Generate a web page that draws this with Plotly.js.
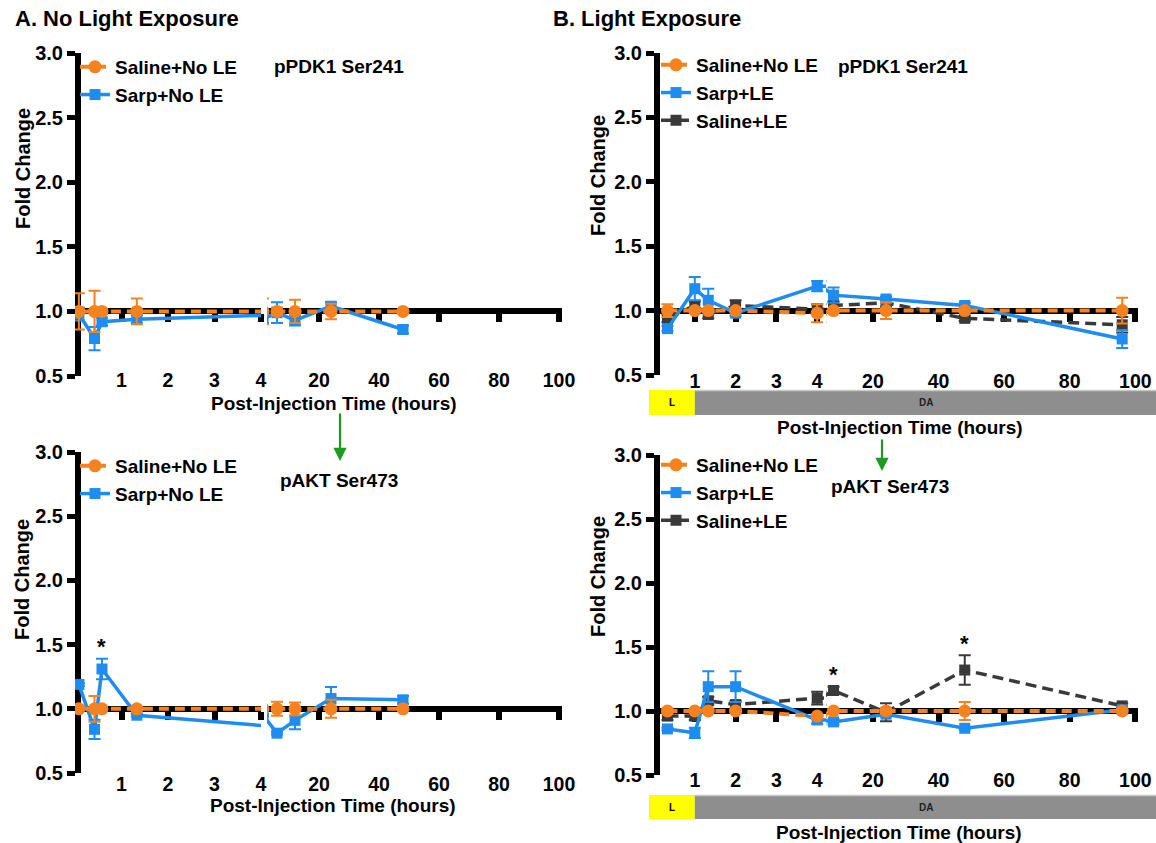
<!DOCTYPE html>
<html><head><meta charset="utf-8">
<script src="https://cdn.plot.ly/plotly-3.0.1.min.js"></script>
<style>html,body{margin:0;padding:0;background:#fff}#chart{width:1156px;height:843px}</style>
</head><body><div id="chart"></div>
<script>
// ---------- DATA ----------
const timesA = [0.083, 0.42, 0.58, 1.33, 6, 12, 24, 48];        // hours, No Light Exposure
const timesB = [0.33, 1, 1.33, 2, 4, 8, 24, 48, 96];             // hours, Light Exposure
const ticksSeg1 = [1, 2, 3, 4];
const ticksSeg2 = [20, 40, 60, 80, 100];
const yTickVals = [0.5, 1.0, 1.5, 2.0, 2.5, 3.0];

// A: pPDK1 Ser241
const pdkA_salineNoLE     = [1.00, 1.00, 1.00, 1.00, 1.00, 1.00, 1.00, 1.00];
const pdkA_salineNoLE_sem = [0.14, 0.16, 0.02, 0.10, 0.03, 0.09, 0.06, 0.01];
const pdkA_sarpNoLE       = [0.98, 0.79, 0.92, 0.94, 0.99, 0.93, 1.04, 0.86];
const pdkA_sarpNoLE_sem   = [0.05, 0.09, 0.03, 0.03, 0.08, 0.04, 0.03, 0.03];
// A: pAKT Ser473
const aktA_salineNoLE     = [1.00, 1.00, 1.00, 1.00, 1.00, 1.00, 1.00, 1.00];
const aktA_salineNoLE_sem = [0.01, 0.10, 0.01, 0.01, 0.055, 0.05, 0.07, 0.01];
const aktA_sarpNoLE       = [1.19, 0.84, 1.31, 0.95, 0.81, 0.91, 1.08, 1.07];
const aktA_sarpNoLE_sem   = [0.01, 0.075, 0.08, 0.01, 0.01, 0.07, 0.09, 0.03];
// B: pPDK1 Ser241
const pdkB_salineNoLE     = [1.00, 1.00, 1.00, 1.00, 0.98, 1.00, 1.00, 1.00, 1.00];
const pdkB_salineNoLE_sem = [0.05, 0.01, 0.01, 0.01, 0.07, 0.01, 0.065, 0.01, 0.10];
const pdkB_sarpLE         = [0.86, 1.17, 1.08, 0.98, 1.19, 1.12, 1.09, 1.04, 0.78];
const pdkB_sarpLE_sem     = [0.02, 0.09, 0.09, 0.02, 0.04, 0.06, 0.02, 0.02, 0.07];
const pdkB_salineLE       = [0.94, 1.04, 0.97, 1.04, 1.01, 1.04, 1.06, 0.94, 0.89];
const pdkB_salineLE_sem   = [0.03, 0.03, 0.03, 0.04, 0.04, 0.03, 0.03, 0.02, 0.06];
// B: pAKT Ser473
const aktB_salineNoLE     = [1.00, 1.00, 1.00, 1.00, 0.96, 1.00, 1.00, 1.00, 1.00];
const aktB_salineNoLE_sem = [0.02, 0.01, 0.01, 0.01, 0.01, 0.01, 0.02, 0.07, 0.01];
const aktB_sarpLE         = [0.86, 0.83, 1.19, 1.19, 0.93, 0.915, 0.975, 0.865, 1.01];
const aktB_sarpLE_sem     = [0.01, 0.04, 0.12, 0.12, 0.03, 0.02, 0.01, 0.01, 0.01];
const aktB_salineLE       = [0.96, 0.96, 1.08, 1.05, 1.10, 1.16, 0.99, 1.32, 1.04];
const aktB_salineLE_sem   = [0.03, 0.03, 0.03, 0.03, 0.05, 0.03, 0.07, 0.115, 0.02];

// significant points (indices into the series)
const sigIdx_aktA_sarpNoLE = [2];
const sigIdx_aktB_salineLE = [5, 7];

// ---------- STYLE / LAYOUT ----------
const W = 1156, H = 843;
const FONT = 'Arial, "Liberation Sans", Helvetica, sans-serif';
const STY = {
  salineNoLE: {color:'#F5821F', dash:'10px,6px', width:4, symbol:'circle', size:13},
  sarp:       {color:'#1E8CF0', dash:'solid',   width:3.5, symbol:'square', size:11},
  salineLE:   {color:'#3a3a3a', dash:'11px,6px', width:3.5, symbol:'square', size:11}
};

const panels = [
  {xa:[1,2], ya:1, s1:[75,261], s2:[267,562], r1:[0,4], r2:[2.67,101], yPix:[376,53], times:timesA,
   legend:'legend', legPos:[75,48], standoff:41,
   series:[
     {name:'Sarp+No LE', kind:'sarp', y:pdkA_sarpNoLE, e:pdkA_sarpNoLE_sem, rank:2},
     {name:'Saline+No LE', kind:'salineNoLE', y:pdkA_salineNoLE, e:pdkA_salineNoLE_sem, rank:1}
   ]},
  {xa:[3,4], ya:2, s1:[75,261], s2:[267,562], r1:[0,4], r2:[2.67,101], yPix:[773,452], times:timesA,
   legend:'legend2', legPos:[75,447], standoff:48,
   series:[
     {name:'Sarp+No LE', kind:'sarp', y:aktA_sarpNoLE, e:aktA_sarpNoLE_sem, rank:2, sig:sigIdx_aktA_sarpNoLE},
     {name:'Saline+No LE', kind:'salineNoLE', y:aktA_salineNoLE, e:aktA_salineNoLE_sem, rank:1}
   ]},
  {xa:[5,6], ya:3, s1:[654,826], s2:[826,1138], r1:[0,4.216], r2:[5.7,100.82], yPix:[375,53], times:timesB,
   legend:'legend3', legPos:[656,46], standoff:43, bar:[390,415],
   series:[
     {name:'Saline+LE', kind:'salineLE', y:pdkB_salineLE, e:pdkB_salineLE_sem, rank:3},
     {name:'Sarp+LE', kind:'sarp', y:pdkB_sarpLE, e:pdkB_sarpLE_sem, rank:2},
     {name:'Saline+No LE', kind:'salineNoLE', y:pdkB_salineNoLE, e:pdkB_salineNoLE_sem, rank:1}
   ]},
  {xa:[7,8], ya:4, s1:[654,826], s2:[826,1138], r1:[0,4.216], r2:[5.7,100.82], yPix:[775,455], times:timesB,
   legend:'legend4', legPos:[656,446], standoff:42, bar:[795,819],
   series:[
     {name:'Saline+LE', kind:'salineLE', y:aktB_salineLE, e:aktB_salineLE_sem, rank:3, sig:sigIdx_aktB_salineLE},
     {name:'Sarp+LE', kind:'sarp', y:aktB_sarpLE, e:aktB_sarpLE_sem, rank:2},
     {name:'Saline+No LE', kind:'salineNoLE', y:aktB_salineNoLE, e:aktB_salineNoLE_sem, rank:1}
   ]}
];

const id = (l,n) => l + (n===1 ? '' : n);
const axKey = (l,n) => l + 'axis' + (n===1 ? '' : n);

const traces = [];
const layout = {
  width:W, height:H, margin:{l:0,r:0,t:0,b:0}, paper_bgcolor:'#fff', plot_bgcolor:'rgba(0,0,0,0)',
  font:{family:FONT, color:'#000', size:18, weight:'bold'}, annotations:[], shapes:[]
};

panels.forEach(p => {
  const yDom = [1 - p.yPix[0]/H, 1 - p.yPix[1]/H];
  const yLinePos = yDom[0] + (1 - 0.5)/(3 - 0.5) * (yDom[1] - yDom[0]);
  // y axis
  layout[axKey('y', p.ya)] = {
    domain:yDom, range:[0.5,3], anchor:'free', position:(p.s1[0] + 3)/W, tickvals:yTickVals,
    ticktext:yTickVals.map(v => v.toFixed(1)), showline:true, linewidth:6, linecolor:'#000',
    ticks:'outside', ticklen:8, tickwidth:5, tickcolor:'#000', showgrid:false, zeroline:false,
    tickfont:{family:FONT, size:20, weight:'bold', color:'#000'}, layer:'below traces', fixedrange:true
  };
  // two x segments, axis line drawn at y = 1.0
  [[p.xa[0], p.s1, p.r1, ticksSeg1], [p.xa[1], p.s2, p.r2, ticksSeg2]].forEach(([n, s, r, tv]) => {
    layout[axKey('x', n)] = {
      domain:[s[0]/W, s[1]/W], range:r, anchor:'free', position:yLinePos,
      tickvals:tv, ticktext:tv.map(String), showline:true, linewidth:6, linecolor:'#000',
      ticks:'outside', ticklen:8, tickwidth:6, tickcolor:'#000', showgrid:false, zeroline:false,
      ticklabelstandoff:p.standoff, tickfont:{family:FONT, size:19.5, weight:'bold', color:'#000'},
      layer:'below traces', fixedrange:true
    };
  });
  // series, drawn once per segment (clipped to each segment)
  p.series.forEach(s => {
    const st = STY[s.kind];
    [p.xa[0], p.xa[1]].forEach((n, k) => {
      traces.push({
        type:'scatter', mode:'lines+markers', x:p.times, y:s.y,
        xaxis:id('x',n), yaxis:id('y',p.ya), name:s.name, legend:p.legend,
        legendrank:s.rank, showlegend:k===0, cliponaxis:true, hoverinfo:'skip',
        line:{color:st.color, width:st.width, dash:st.dash},
        marker:{symbol:st.symbol, size:st.size, color:st.color},
        error_y:{type:'data', array:s.e, visible:true, color:st.color, thickness:2, width:6}
      });
    });
    (s.sig || []).forEach(i => {
      const t = p.times[i];
      const n = t <= p.r1[1] ? p.xa[0] : p.xa[1];
      layout.annotations.push({xref:id('x',n), yref:id('y',p.ya), x:t, y:s.y[i] + s.e[i],
        text:'*', showarrow:false, xanchor:'center', yanchor:'middle', yshift:12,
        font:{family:FONT, size:22, color:'#000'}});
    });
  });
  layout[p.legend] = {
    x:p.legPos[0]/W, y:1 - p.legPos[1]/H, xanchor:'left', yanchor:'top', bgcolor:'rgba(0,0,0,0)',
    font:{family:FONT, size:19, weight:'bold', color:'#000'}, itemwidth:30, tracegroupgap:0
  };
  // light-phase bar (panel B)
  if (p.bar) {
    const x1h = (p.s1[0] + (1 - p.r1[0])/(p.r1[1]-p.r1[0])*(p.s1[1]-p.s1[0])) / W;
    layout.shapes.push({type:'rect', xref:'paper', yref:'paper', x0:649/W, x1:x1h,
      y0:1 - p.bar[1]/H, y1:1 - p.bar[0]/H, fillcolor:'#FFFF00', line:{width:0}, layer:'below'});
    layout.shapes.push({type:'rect', xref:'paper', yref:'paper', x0:x1h, x1:1,
      y0:1 - p.bar[1]/H, y1:1 - p.bar[0]/H, fillcolor:'#8E8E8E', line:{width:0}, layer:'below'});
    layout.shapes.push({type:'line', xref:'paper', yref:'paper', x0:x1h, x1:1,
      y0:1 - (p.bar[0] + 0.5)/H, y1:1 - (p.bar[0] + 0.5)/H, line:{color:'#C8C8C8', width:1.5}});
    const yc = 1 - (p.bar[0] + p.bar[1]) / 2 / H;
    layout.annotations.push({xref:'paper', yref:'paper', x:(649/W + x1h)/2, y:yc, text:'L', showarrow:false,
      xanchor:'center', yanchor:'middle', font:{family:FONT, size:10, weight:'bold', color:'#000'}});
    layout.annotations.push({xref:'paper', yref:'paper', x:926/W, y:yc, text:'DA', showarrow:false,
      xanchor:'center', yanchor:'middle', font:{family:FONT, size:10, weight:'bold', color:'#222'}});
  }
});

// texts
const txt = (x, y, text, size, opts={}) => Object.assign({xref:'paper', yref:'paper', x:x/W, y:1 - y/H,
  text, showarrow:false, xanchor:'center', yanchor:'middle',
  font:{family:FONT, size, weight:'bold', color:'#000'}}, opts);
layout.annotations.push(
  txt(13, 18, 'A. No Light Exposure', 22, {xanchor:'left'}),
  txt(551, 18, 'B. Light Exposure', 22, {xanchor:'left'}),
  txt(272, 67, 'pPDK1 Ser241', 19, {xanchor:'left'}),
  txt(836, 67, 'pPDK1 Ser241', 19, {xanchor:'left'}),
  txt(278, 480, 'pAKT Ser473', 19, {xanchor:'left'}),
  txt(829, 486, 'pAKT Ser473', 19, {xanchor:'left'}),
  txt(23, 169, 'Fold Change', 20, {textangle:-90}),
  txt(598, 176, 'Fold Change', 20, {textangle:-90}),
  txt(22, 580, 'Fold Change', 20, {textangle:-90}),
  txt(598, 577, 'Fold Change', 20, {textangle:-90}),
  txt(334, 403, 'Post-Injection Time (hours)', 19),
  txt(900, 427, 'Post-Injection Time (hours)', 19),
  txt(333, 805, 'Post-Injection Time (hours)', 19),
  txt(899, 832, 'Post-Injection Time (hours)', 19)
);
// green arrows
[[340, 412, 461], [882, 438, 471]].forEach(([x, y0, y1]) => {
  layout.annotations.push({xref:'paper', yref:'paper', x:x/W, y:1 - y1/H, ax:0, ay:-(y1 - y0),
    axref:'pixel', ayref:'pixel', text:'', showarrow:true, arrowhead:2, arrowsize:1.2,
    arrowwidth:2.2, arrowcolor:'#1E9A1E'});
});

Plotly.newPlot('chart', traces, layout, {staticPlot:true, displayModeBar:false});
</script>
</body></html>
